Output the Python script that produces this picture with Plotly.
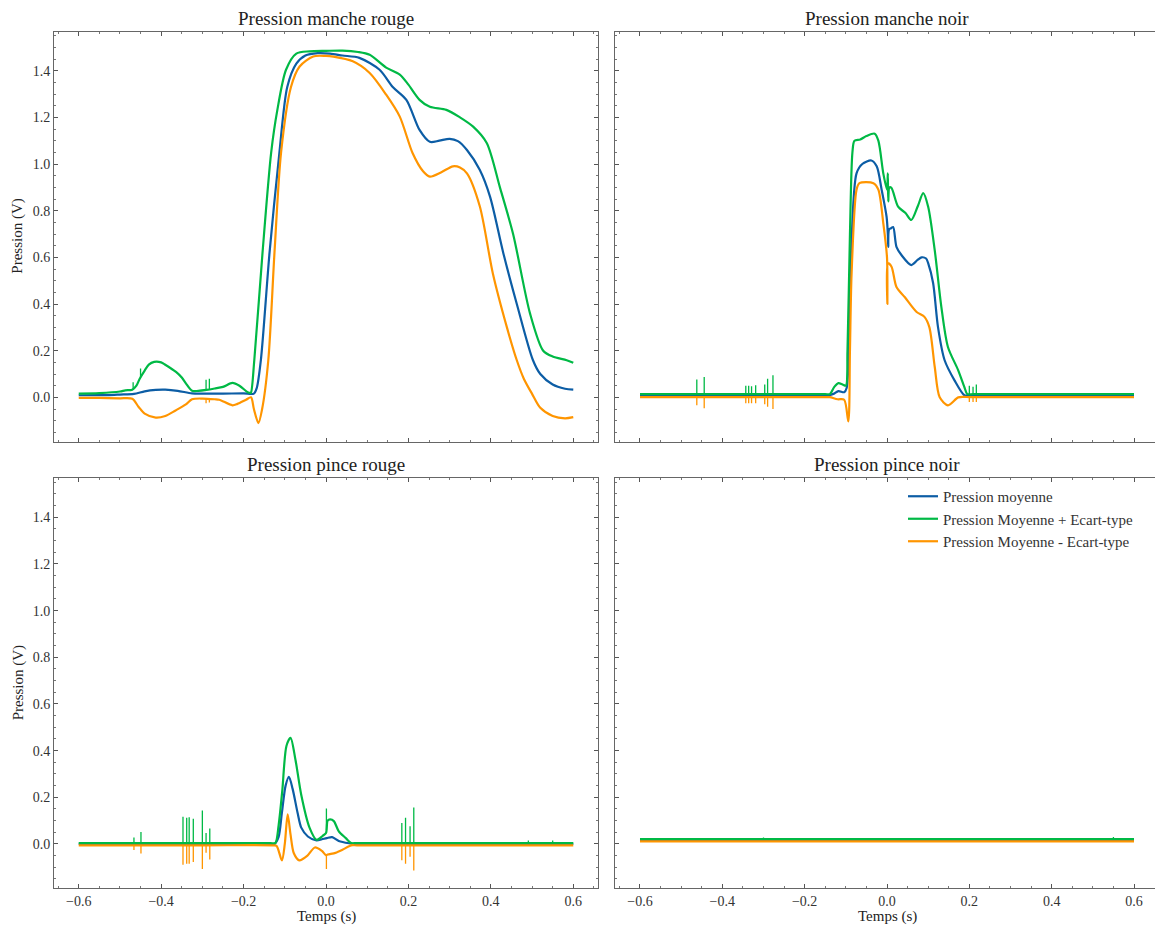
import numpy as np
import plotly.graph_objects as go

# ---------- Pression manche rouge (top left) ----------
mr_t_moy = [-0.6, -0.55, -0.527, -0.5, -0.466, -0.44, -0.413, -0.39, -0.36, -0.325, -0.3, -0.25, -0.2, -0.175,
            -0.168, -0.158, -0.137, -0.113, -0.094, -0.072, -0.05, -0.02, 0.01, 0.04, 0.081, 0.13, 0.162,
            0.195, 0.227, 0.252, 0.275, 0.30, 0.32, 0.342, 0.373, 0.398, 0.43, 0.463, 0.502, 0.52, 0.55,
            0.58, 0.6]
mr_moy = [0.009, 0.01, 0.01, 0.012, 0.015, 0.026, 0.032, 0.033, 0.028, 0.017, 0.016, 0.016, 0.017, 0.016,
          0.04, 0.16, 0.62, 1.05, 1.33, 1.43, 1.465, 1.475, 1.473, 1.465, 1.455, 1.404, 1.33,
          1.275, 1.146, 1.095, 1.1, 1.108, 1.098, 1.06, 0.975, 0.86, 0.62, 0.40, 0.16, 0.1, 0.055,
          0.037, 0.033]

mr_t_plus = [-0.6, -0.55, -0.5, -0.487, -0.47, -0.46, -0.452, -0.44, -0.43, -0.417, -0.40, -0.39, -0.364,
             -0.35, -0.34, -0.325, -0.31, -0.29, -0.27, -0.25, -0.227, -0.21, -0.19, -0.184, -0.182,
             -0.174, -0.154, -0.133, -0.118, -0.097, -0.072, -0.04, 0.0, 0.04, 0.078, 0.106, 0.146, 0.179,
             0.2, 0.227, 0.252, 0.292, 0.325, 0.357, 0.39, 0.422, 0.454, 0.495, 0.527, 0.55, 0.584, 0.6]
mr_plus = [0.016, 0.018, 0.025, 0.03, 0.033, 0.05, 0.08, 0.115, 0.14, 0.152, 0.15, 0.14, 0.109,
           0.085, 0.06, 0.028, 0.028, 0.032, 0.038, 0.045, 0.062, 0.05, 0.022, 0.019, 0.02,
           0.159, 0.62, 1.05, 1.232, 1.404, 1.473, 1.483, 1.485, 1.486, 1.48, 1.468, 1.413, 1.383,
           1.34, 1.275, 1.245, 1.232, 1.2, 1.16, 1.09, 0.90, 0.70, 0.36, 0.20, 0.175, 0.159, 0.148]
mr_pics_t_plus = [-0.468, -0.45, -0.291, -0.283]
mr_pics_plus = [0.065, 0.124, 0.075, 0.08]

mr_t_moins = [-0.6, -0.55, -0.5, -0.47, -0.455, -0.44, -0.413, -0.39, -0.365, -0.34, -0.325, -0.3, -0.27,
              -0.259, -0.227, -0.215, -0.194, -0.182, -0.175, -0.164, -0.155, -0.14, -0.125, -0.109, -0.085,
              -0.064, -0.031, 0.0, 0.018, 0.065, 0.106, 0.146, 0.179, 0.21, 0.235, 0.252, 0.28, 0.308,
              0.325, 0.342, 0.373, 0.405, 0.439, 0.463, 0.48, 0.5, 0.52, 0.55, 0.58, 0.6]
mr_moins = [-0.002, -0.002, -0.004, -0.006, -0.04, -0.07, -0.087, -0.08, -0.056, -0.03, -0.008, -0.005, -0.008,
            -0.01, -0.034, -0.028, -0.01, 0.0, -0.05, -0.11, -0.05, 0.159, 0.62, 1.05, 1.33,
            1.418, 1.461, 1.463, 1.46, 1.44, 1.39, 1.297, 1.203, 1.047, 0.97, 0.946, 0.965, 0.99,
            0.985, 0.96, 0.82, 0.53, 0.30, 0.159, 0.08, 0.015, -0.045, -0.08, -0.09, -0.085]
mr_pics_t_moins = [-0.291, -0.283]
mr_pics_moins = [-0.025, -0.022]

# ---------- Pression manche noir (top right) ----------
mn_t_moy = [-0.6, -0.3, -0.145, -0.13, -0.118, -0.104, -0.098, -0.092, -0.086, -0.074, -0.06, -0.038, -0.025,
            -0.013, -0.001, 0.002, 0.003, 0.005, 0.01, 0.015, 0.023, 0.035, 0.059, 0.075, 0.084, 0.095,
            0.10, 0.112, 0.124, 0.14, 0.164, 0.188, 0.2, 0.3, 0.6]
mn_moy = [0.008, 0.008, 0.008, 0.015, 0.027, 0.022, 0.04, 0.3, 0.674, 0.96, 1.0, 1.015, 0.99,
          0.89, 0.774, 0.70, 0.645, 0.72, 0.725, 0.73, 0.645, 0.61, 0.567, 0.59, 0.60, 0.595,
          0.575, 0.49, 0.30, 0.159, 0.073, 0.009, 0.008, 0.008, 0.008]

mn_t_plus = [-0.6, -0.3, -0.15, -0.139, -0.128, -0.118, -0.108, -0.1, -0.096, -0.09, -0.084, -0.079, -0.065,
             -0.05, -0.03, -0.021, -0.009, 0.0, 0.002, 0.003, 0.006, 0.011, 0.027, 0.045, 0.059, 0.075,
             0.088, 0.10, 0.116, 0.132, 0.148, 0.173, 0.188, 0.195, 0.21, 0.3, 0.6]
mn_plus = [0.014, 0.014, 0.014, 0.014, 0.045, 0.061, 0.055, 0.05, 0.2, 0.7, 1.05, 1.10, 1.105,
           1.12, 1.13, 1.10, 0.96, 0.89, 0.96, 0.84, 0.90, 0.897, 0.817, 0.79, 0.76, 0.82,
           0.875, 0.817, 0.63, 0.388, 0.216, 0.116, 0.044, 0.014, 0.014, 0.014, 0.014]
mn_pics_t = [-0.462, -0.444, -0.343, -0.336, -0.329, -0.319, -0.297, -0.290, -0.277, 0.2, 0.209, 0.217]
mn_pics_plus = [0.077, 0.087, 0.05, 0.05, 0.048, 0.052, 0.055, 0.08, 0.095, 0.05, 0.045, 0.055]

mn_t_moins = [-0.6, -0.3, -0.15, -0.139, -0.12, -0.104, -0.094, -0.09, -0.086, -0.074, -0.067, -0.033, -0.021,
              -0.009, 0.0, 0.001, 0.002, 0.011, 0.023, 0.043, 0.072, 0.091, 0.103, 0.116, 0.128, 0.148,
              0.173, 0.188, 0.2, 0.3, 0.6]
mn_moins = [0.001, 0.001, 0.001, 0.001, -0.008, -0.01, -0.103, 0.2, 0.53, 0.89, 0.918, 0.918, 0.89,
            0.746, 0.6, 0.40, 0.575, 0.56, 0.473, 0.43, 0.366, 0.345, 0.30, 0.13, 0.0, -0.034,
            0.0, 0.002, 0.001, 0.001, 0.001]
mn_pics_moins = [-0.034, -0.047, -0.025, -0.025, -0.025, -0.025, -0.03, -0.04, -0.05, -0.02, -0.02, -0.02]

# ---------- Pression pince rouge (bottom left) ----------
pr_t_moy = [-0.6, -0.3, -0.135, -0.125, -0.115, -0.107, -0.098, -0.09, -0.081, -0.069, -0.06, -0.044, -0.023,
            -0.01, 0.002, 0.015, 0.031, 0.056, 0.07, 0.2, 0.6]
pr_moy = [0.0, 0.0, 0.0, 0.0, 0.03, 0.134, 0.25, 0.288, 0.236, 0.134, 0.07, 0.032, 0.015,
          0.02, 0.025, 0.029, 0.013, 0.003, 0.0, 0.0, 0.0]

pr_t_plus = [-0.6, -0.3, -0.135, -0.123, -0.115, -0.106, -0.096, -0.086, -0.074, -0.06, -0.04, -0.023,
             -0.008, 0.0, 0.004, 0.01, 0.019, 0.031, 0.048, 0.061, 0.075, 0.3, 0.6]
pr_plus = [0.004, 0.004, 0.004, 0.004, 0.08, 0.23, 0.42, 0.455, 0.36, 0.21, 0.07, 0.018,
           0.035, 0.047, 0.1, 0.105, 0.098, 0.054, 0.025, 0.004, 0.004, 0.004, 0.004]
pr_pics_t = [-0.466, -0.449, -0.347, -0.338, -0.332, -0.322, -0.30, -0.291, -0.282, 0.001,
             0.184, 0.193, 0.204, 0.213]
pr_pics_plus = [0.028, 0.051, 0.117, 0.112, 0.115, 0.108, 0.143, 0.047, 0.066, 0.152,
                0.09, 0.112, 0.076, 0.156]
pr_pics_t_petits = [0.491, 0.55]
pr_pics_petits = [0.015, 0.015]

pr_t_moins = [-0.6, -0.3, -0.13, -0.12, -0.107, -0.1, -0.093, -0.086, -0.078, -0.065, -0.045, -0.027,
              -0.01, 0.0, 0.004, 0.023, 0.04, 0.061, 0.075, 0.3, 0.6]
pr_moins = [-0.006, -0.006, -0.006, -0.008, -0.07, 0.0, 0.127, 0.04, -0.04, -0.07, -0.05, -0.015,
            -0.03, -0.048, -0.045, -0.038, -0.025, -0.006, -0.006, -0.006, -0.006]
pr_pics_moins = [-0.026, -0.041, -0.089, -0.085, -0.085, -0.077, -0.107, -0.038, -0.067, -0.107,
                 -0.07, -0.085, -0.055, -0.114]

# ---------- Pression pince noir (bottom right) ----------
pn_t = [-0.6, 0.6]
pn_moy = [0.016, 0.016]
pn_plus = [0.021, 0.021]
pn_moins = [0.011, 0.011]
pn_pics_t = [-0.3, 0.21, 0.47, 0.55]
pn_pics_plus = [0.028, 0.026, 0.026, 0.03]

titles = ["Pression manche rouge", "Pression manche noir", "Pression pince rouge", "Pression pince noir"]
names = ["Pression moyenne", "Pression Moyenne + Ecart-type", "Pression Moyenne - Ecart-type"]
colors = ["#0C5DA5", "#00B945", "#FF9500"]

# per panel: (main t, main v, spike t, spike tips) for moyenne, +, -
panels = [
    [(mr_t_moy, mr_moy, [], []),
     (mr_t_plus, mr_plus, mr_pics_t_plus, mr_pics_plus),
     (mr_t_moins, mr_moins, mr_pics_t_moins, mr_pics_moins)],
    [(mn_t_moy, mn_moy, [], []),
     (mn_t_plus, mn_plus, mn_pics_t, mn_pics_plus),
     (mn_t_moins, mn_moins, mn_pics_t, mn_pics_moins)],
    [(pr_t_moy, pr_moy, [], []),
     (pr_t_plus, pr_plus, pr_pics_t + pr_pics_t_petits, pr_pics_plus + pr_pics_petits),
     (pr_t_moins, pr_moins, pr_pics_t, pr_pics_moins)],
    [(pn_t, pn_moy, [], []),
     (pn_t, pn_plus, pn_pics_t, pn_pics_plus),
     (pn_t, pn_moins, [], [])],
]

W, H = 1155, 926
FONT = "Liberation Serif"
xdom = [[54 / W, 598 / W], [615 / W, 1.0]]
ydom = [[1 - 441.7 / H, 1 - 31.7 / H], [1 - 888.3 / H, 1 - 478.3 / H]]
xranges = [[-0.66, 0.66], [-0.6607, 0.651]]
xcenter = [326 / W, 887 / W]
yrange = [-0.19, 1.567]

fig = go.Figure()
for i, series in enumerate(panels):
    xa = "x" if i == 0 else "x%d" % (i + 1)
    ya = "y" if i == 0 else "y%d" % (i + 1)
    for j, (t, v, pt, pv) in enumerate(series):
        fig.add_trace(go.Scatter(
            x=t, y=v, mode="lines", name=names[j],
            line=dict(color=colors[j], width=2.2, shape="spline", smoothing=0.8),
            xaxis=xa, yaxis=ya, showlegend=(i == 3), legendgroup=names[j],
        ))
        if pt:
            base = np.interp(pt, t, v)
            sx, sy = [], []
            for tt, b, p in zip(pt, base, pv):
                sx += [tt, tt, None]
                sy += [b, p, None]
            fig.add_trace(go.Scatter(
                x=sx, y=sy, mode="lines", line=dict(color=colors[j], width=1.3),
                xaxis=xa, yaxis=ya, showlegend=False, hoverinfo="skip",
            ))

layout = dict(
    width=W, height=H,
    margin=dict(l=0, r=0, t=0, b=0),
    paper_bgcolor="white", plot_bgcolor="white",
    font=dict(family=FONT, size=14, color="#333"),
    showlegend=True,
    legend=dict(x=903 / W, y=1 - 480 / H, xanchor="left", yanchor="top",
                font=dict(family=FONT, size=15, color="#333"),
                bgcolor="rgba(0,0,0,0)", tracegroupgap=0),
    annotations=[],
)

for i in range(4):
    row, col = i // 2, i % 2
    suffix = "" if i == 0 else str(i + 1)
    tick = dict(ticks="inside", ticklen=4, tickwidth=1, tickcolor="#555",
                showline=True, linecolor="#666", linewidth=1,
                showgrid=False, zeroline=False,
                minor=dict(ticks="inside", ticklen=2, tickcolor="#777", dtick=0.05),
                tickfont=dict(family=FONT, size=14, color="#333"),
                tickformat=".1f", dtick=0.2, tick0=0)
    layout["xaxis" + suffix] = dict(
        tick, domain=xdom[col], range=xranges[col], anchor="y" + suffix,
        mirror="ticks", showticklabels=(row == 1))
    layout["yaxis" + suffix] = dict(
        tick, domain=ydom[row], range=yrange, anchor="x" + suffix,
        mirror="ticks" if col == 0 else False, showticklabels=(col == 0))
    layout["annotations"].append(dict(
        text=titles[i], xref="paper", yref="paper",
        x=xcenter[col], y=ydom[row][1] + 1 / H, xanchor="center", yanchor="bottom",
        showarrow=False, font=dict(family=FONT, size=19, color="#222")))
    if col == 0:
        layout["annotations"].append(dict(
            text="Pression (V)", xref="paper", yref="paper", x=18 / W,
            y=sum(ydom[row]) / 2, textangle=-90, xanchor="center", yanchor="middle",
            showarrow=False, font=dict(family=FONT, size=15, color="#222")))
    if row == 1:
        layout["annotations"].append(dict(
            text="Temps (s)", xref="paper", yref="paper",
            x=xcenter[col], y=1 - 916 / H, xanchor="center", yanchor="middle",
            showarrow=False, font=dict(family=FONT, size=15, color="#222")))

fig.update_layout(layout)
fig.write_html("out.html", config={"displayModeBar": False},
               post_script="document.body.style.margin='0';document.body.style.overflow='hidden';")
